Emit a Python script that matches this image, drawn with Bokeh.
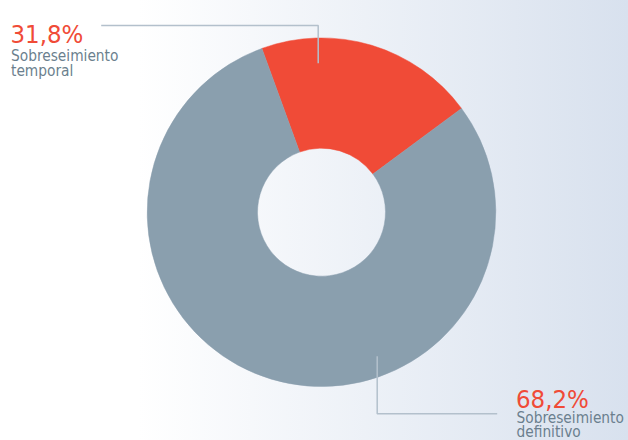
import numpy as np
from bokeh.plotting import figure
from bokeh.models import ColumnDataSource, Range1d
from bokeh.embed import file_html
from bokeh.resources import INLINE
from bokeh.core.properties import value

# ---- data ----
categories = ["Sobreseimiento temporal", "Sobreseimiento definitivo"]
label_line1 = ["Sobreseimiento", "Sobreseimiento"]
label_line2 = ["temporal", "definitivo"]
percent_labels = [31.8, 68.2]          # printed values
# angular share of each slice as drawn in the original artwork
arc_shares = [20.4, 79.6]
colors = ["#f04b37", "#8a9fae"]
start_angle_deg = 110.0                # where the first slice starts (CCW from +x)

# ---- figure (pixel-like coordinates) ----
W, H = 628, 440
p = figure(width=W, height=H, x_range=Range1d(0, W), y_range=Range1d(0, H),
           output_backend="svg", toolbar_location=None, min_border=0)
p.axis.visible = False
p.grid.visible = False
p.outline_line_color = None
p.background_fill_alpha = 0
p.border_fill_alpha = 0
p.styles = {"background": "linear-gradient(90deg, #ffffff 0%, #ffffff 22%, #d8e1ee 100%)"}


def px(X, Y):
    """picture pixel -> data coords"""
    return X, H - Y


cx, cy = px(321, 211.7)
r_out, r_in = 174.3, 64.0

cum = np.cumsum([0] + arc_shares)
starts = np.radians(start_angle_deg - cum[:-1] / 100 * 360)
ends = np.radians(start_angle_deg - cum[1:] / 100 * 360)
src = ColumnDataSource(dict(start=starts, end=ends, color=colors, cat=categories))
p.annular_wedge(x=cx, y=cy, inner_radius=r_in, outer_radius=r_out,
                start_angle="start", end_angle="end", direction="clock",
                fill_color="color", line_color="color", line_width=0.5, source=src)

# ---- leader lines ----
lc = "#b3c0cc"
dy = -4
xs1, ys1 = zip(*[px(100.7, 25), px(317.7, 25), px(317.7, 62.7)])
p.line(list(xs1), list(ys1), line_color=lc, line_width=1.5)
xs2, ys2 = zip(*[px(376.7, 355.7), px(376.7, 417.3 + dy), px(496.7, 417.3 + dy)])
p.line(list(xs2), list(ys2), line_color=lc, line_width=1.5)

# ---- labels ----
font = value("DejaVu Sans Condensed")
pct_txt = [f"{v:.1f}%".replace(".", ",") for v in percent_labels]
label_pos = [(10, 33.3, 55.7, 70.7), (515.5, 402.7 + dy, 421.5 + dy, 435.5 + dy)]
for i in range(2):
    X, b0, b1, b2 = label_pos[i]
    x0, y0 = px(X, b0)
    _, y1 = px(X, b1)
    _, y2 = px(X, b2)
    p.text(x=[x0], y=[y0], text=[pct_txt[i]], text_font=font, text_font_size="25.5px",
           text_color="#f04b37", text_baseline="alphabetic", text_align="left")
    p.text(x=[x0 + 0.5, x0 + 0.5], y=[y1, y2], text=[label_line1[i], label_line2[i]],
           text_font=font, text_font_size="15.3px", text_color="#6b7f8e",
           text_baseline="alphabetic", text_align="left")

open("out.html", "w").write(file_html(p, INLINE))
